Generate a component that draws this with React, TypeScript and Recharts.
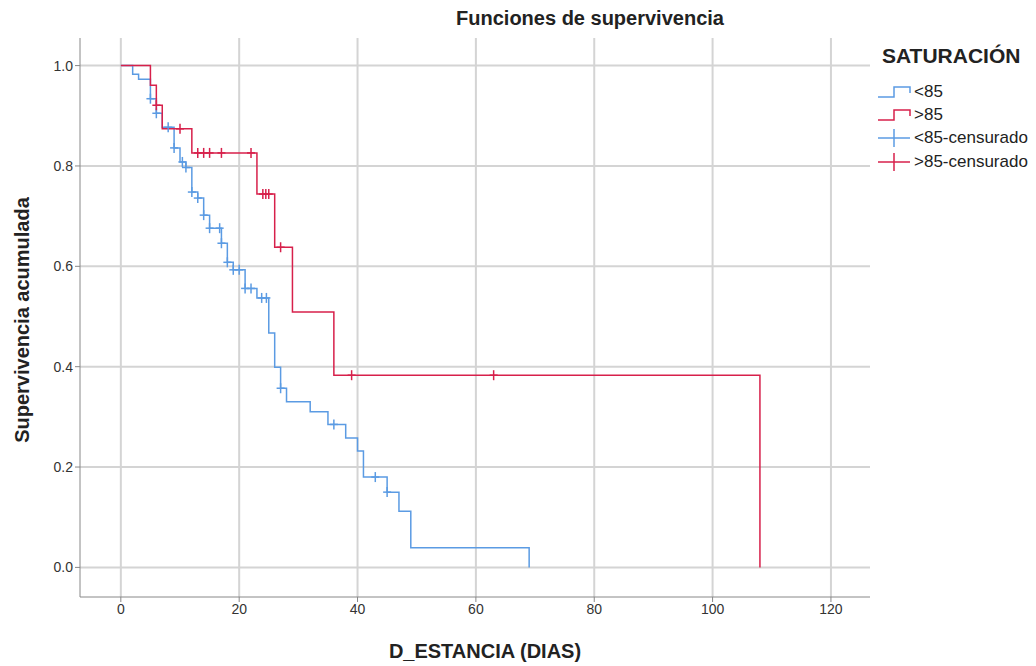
import React from "react";
import {
  ComposedChart,
  Line,
  Scatter,
  XAxis,
  YAxis,
  CartesianGrid,
} from "recharts";

const BLUE = "#5b9be3";
const RED = "#d7204b";
const FONT = "'Liberation Sans', Arial, sans-serif";

// Kaplan-Meier steps: [time, survival]
const lowTimes = [0, 2, 3, 5, 6, 7, 9, 10, 11, 12, 13, 14, 15, 17, 18, 19, 21, 23, 25, 26, 27, 28, 32, 35, 38, 40, 41, 45, 47, 49, 69];
const lowSurv = [1.0, 0.983, 0.973, 0.934, 0.905, 0.877, 0.836, 0.808, 0.797, 0.748, 0.736, 0.702, 0.676, 0.646, 0.608, 0.593, 0.556, 0.537, 0.467, 0.399, 0.357, 0.33, 0.31, 0.285, 0.258, 0.232, 0.18, 0.15, 0.112, 0.039, 0.0];

const highTimes = [0, 5, 6, 7, 12, 23, 26, 29, 36, 108];
const highSurv = [1.0, 0.961, 0.921, 0.874, 0.826, 0.744, 0.638, 0.509, 0.383, 0.0];

// censored cases
const lowCensTimes = [5, 6, 8, 9, 10.4, 11, 12, 13, 14, 15, 16.7, 17, 18, 19, 20, 21, 22, 23.8, 24.6, 27, 36, 43, 45];
const lowCensSurv = [0.934, 0.905, 0.877, 0.836, 0.808, 0.797, 0.748, 0.736, 0.702, 0.676, 0.676, 0.646, 0.608, 0.593, 0.593, 0.556, 0.556, 0.537, 0.537, 0.357, 0.285, 0.18, 0.15];

const highCensTimes = [6, 10, 13, 14, 15, 17, 22, 24, 24.5, 25, 27, 39, 63];
const highCensSurv = [0.921, 0.874, 0.826, 0.826, 0.826, 0.826, 0.826, 0.744, 0.744, 0.744, 0.638, 0.383, 0.383];

const xTicks = [0, 20, 40, 60, 80, 100, 120];
const yTicks = [0, 0.2, 0.4, 0.6, 0.8, 1.0];

const X_DOMAIN: [number, number] = [-6.9, 126.6];
const Y_DOMAIN: [number, number] = [-0.059, 1.055];

const toRows = (ts: number[], ss: number[]) => ts.map((t, i) => ({ t, s: ss[i] }));

const lowSteps = toRows(lowTimes, lowSurv);
const highSteps = toRows(highTimes, highSurv);
const lowCens = toRows(lowCensTimes, lowCensSurv);
const highCens = toRows(highCensTimes, highCensSurv);

// grid only at the tick values (no frame on top / right)
const vGrid = ({ offset }: any) =>
  xTicks.map((v) => offset.left + ((v - X_DOMAIN[0]) / (X_DOMAIN[1] - X_DOMAIN[0])) * offset.width);
const hGrid = ({ offset }: any) =>
  yTicks.map((v) => offset.top + ((Y_DOMAIN[1] - v) / (Y_DOMAIN[1] - Y_DOMAIN[0])) * offset.height);

const Plus = (color: string) => (props: any) => {
  const { cx, cy } = props;
  return (
    <g stroke={color} strokeWidth={1.5}>
      <line x1={cx} x2={cx} y1={cy - 5} y2={cy + 5} />
      <line x1={cx - 4} x2={cx + 4} y1={cy} y2={cy} />
    </g>
  );
};

const LegendRow = ({ color, label, kind }: { color: string; label: string; kind: "step" | "plus" }) => (
  <div style={{ display: "flex", alignItems: "center", height: 23.3 }}>
    <svg width={36} height={20} style={{ marginRight: 2 }}>
      {kind === "step" ? (
        <polyline points="2,15 18,15 18,5 34,5 34,11" fill="none" stroke={color} strokeWidth={1.5} />
      ) : (
        <g stroke={color} strokeWidth={1.5}>
          <line x1={2} x2={34} y1={10} y2={10} />
          <line x1={18} x2={18} y1={1} y2={19} />
        </g>
      )}
    </svg>
    <span style={{ fontSize: 17, color: "#222" }}>{label}</span>
  </div>
);

export default function App() {
  return (
    <div style={{ position: "absolute", left: 0, top: 0, width: 1036, height: 666, background: "#fff", fontFamily: FONT }}>
      <ComposedChart
        width={1036}
        height={666}
        margin={{ top: 38, right: 166, bottom: 39, left: 20 }}
      >
        <CartesianGrid
          stroke="#d4d4d4"
          strokeWidth={2}
          verticalCoordinatesGenerator={vGrid}
          horizontalCoordinatesGenerator={hGrid}
        />
        <XAxis
          dataKey="t"
          type="number"
          domain={X_DOMAIN}
          ticks={xTicks}
          allowDataOverflow
          height={30}
          tickSize={5}
          stroke="#888"
          tick={{ fill: "#333", fontSize: 14, fontFamily: FONT }}
        />
        <YAxis
          dataKey="s"
          type="number"
          domain={Y_DOMAIN}
          ticks={yTicks}
          allowDataOverflow
          width={60}
          tickSize={5}
          stroke="#888"
          tickFormatter={(v: number) => v.toFixed(1)}
          tick={{ fill: "#333", fontSize: 14, fontFamily: FONT }}
        />
        <Line data={lowSteps} dataKey="s" type="stepAfter" stroke={BLUE} strokeWidth={1.5} dot={false} isAnimationActive={false} />
        <Line data={highSteps} dataKey="s" type="stepAfter" stroke={RED} strokeWidth={1.5} dot={false} isAnimationActive={false} />
        <Scatter data={lowCens} dataKey="s" shape={Plus(BLUE)} isAnimationActive={false} />
        <Scatter data={highCens} dataKey="s" shape={Plus(RED)} isAnimationActive={false} />
      </ComposedChart>

      <div style={{ position: "absolute", left: 0, width: 1180, top: 7, textAlign: "center", fontWeight: "bold", fontSize: 20, color: "#222" }}>
        Funciones de supervivencia
      </div>
      <div style={{ position: "absolute", left: 80, width: 810, top: 640, textAlign: "center", fontWeight: "bold", fontSize: 20, color: "#222" }}>
        D_ESTANCIA (DIAS)
      </div>
      <div
        style={{
          position: "absolute",
          left: 22,
          top: 320,
          transform: "translate(-50%, -50%) rotate(-90deg)",
          whiteSpace: "nowrap",
          fontWeight: "bold",
          fontSize: 20,
          color: "#222",
        }}
      >
        Supervivencia acumulada
      </div>

      <div style={{ position: "absolute", left: 876, top: 44 }}>
        <div style={{ fontWeight: "bold", fontSize: 21, color: "#222", marginBottom: 12, marginLeft: 6 }}>SATURACIÓN</div>
        <LegendRow color={BLUE} label="<85" kind="step" />
        <LegendRow color={RED} label=">85" kind="step" />
        <LegendRow color={BLUE} label="<85-censurado" kind="plus" />
        <LegendRow color={RED} label=">85-censurado" kind="plus" />
      </div>
    </div>
  );
}
